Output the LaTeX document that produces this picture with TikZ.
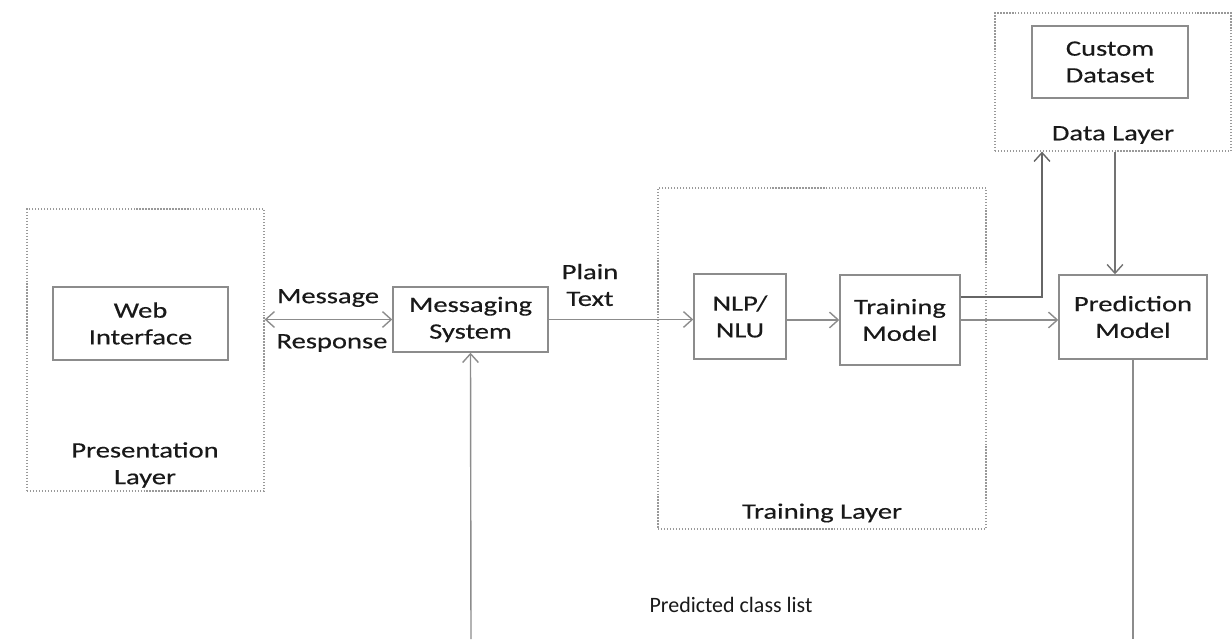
\documentclass[tikz,border=0pt]{standalone}
\usepackage{fontspec}
\setmainfont{Carlito}
\newfontfamily\widefont{Carlito}[FakeStretch=1.3,FakeBold=0.4]
\usepackage{tikz}
\usetikzlibrary{arrows.meta}

\begin{document}
\begin{tikzpicture}[
  box/.style={draw=black!45, line width=0.8pt, inner sep=0pt, align=center,
    font=\widefont\fontsize{12.5}{15.2}\selectfont, text=black!90},
  layer/.style={draw=black!40, densely dotted, line width=0.7pt, inner sep=0pt},
  lbl/.style={align=center, font=\widefont\fontsize{12.5}{15.2}\selectfont, text=black!90},
  arr/.style={draw=black!45, line width=0.8pt, -{Straight Barb[length=5pt,width=9pt]}}]
  \useasboundingbox (0,0) rectangle (24.64,12.78);
  % layers
  \draw (2.91,5.78) node[layer, minimum width=4.74cm, minimum height=5.64cm] (pres) {};
  \draw (16.44,5.61) node[layer, minimum width=6.56cm, minimum height=6.82cm] (trainlayer) {};
  \draw (22.26,11.14) node[layer, minimum width=4.72cm, minimum height=2.76cm] (datalayer) {};
  \draw (2.90,3.48) node[lbl] (preslbl) {Presentation\\Layer};
  \draw (16.44,2.52) node[lbl] (trainlbl) {Training Layer};
  \draw (22.26,10.08) node[lbl] (datalbl) {Data Layer};
  % boxes
  \draw (2.81,6.31) node[box, minimum width=3.5cm, minimum height=1.46cm] (web) {Web\\Interface};
  \draw (9.41,6.39) node[box, minimum width=3.1cm, minimum height=1.3cm] (msg) {Messaging\\System};
  \draw (14.8,6.45) node[box, minimum width=1.84cm, minimum height=1.7cm] (nlp) {NLP/\\NLU};
  \draw (18.0,6.38) node[box, minimum width=2.4cm, minimum height=1.8cm] (train) {Training\\Model};
  \draw (22.2,11.54) node[box, minimum width=3.12cm, minimum height=1.44cm] (custom) {Custom\\Dataset};
  \draw (22.66,6.44) node[box, minimum width=2.96cm, minimum height=1.68cm] (pred) {Prediction\\Model};
  % free ends at the bottom edge
  \coordinate (msgin) at (9.42,0);
  \coordinate (predout) at (22.66,0);
  % connectors
  \draw[arr, {Straight Barb[length=5pt,width=9pt]}-{Straight Barb[length=5pt,width=9pt]}]
    (pres.east |- msg.west) -- (msg.west);
  \draw (6.56,6.82) node[lbl] (msglbl) {Message};
  \draw (6.64,5.92) node[lbl] (resplbl) {Response};
  \draw[arr] (msg.east) -- (msg.east -| nlp.west);
  \draw (11.8,7.08) node[lbl] (plainlbl) {Plain\\Text};
  \draw[arr] (nlp.east |- train.west) -- (train.west);
  \draw[arr] (train.east) -- (train.east -| pred.west);
  \draw[arr, draw=black!60] ([yshift=0.46cm]train.east) -| ([xshift=-1.42cm]datalayer.south);
  \draw[arr, draw=black!55] ([xshift=0.04cm]datalayer.south) -- ([xshift=0.04cm]datalayer.south |- pred.north);
  \draw[draw=black!45, line width=0.8pt] (pred.south) -- (predout);
  \draw[arr] (msgin) -- (msg.south);
  \draw (14.62,0.68) node[font=\fontsize{12.5}{15}\selectfont, text=black!90] (predlbl) {Predicted class list};
\end{tikzpicture}
\end{document}
